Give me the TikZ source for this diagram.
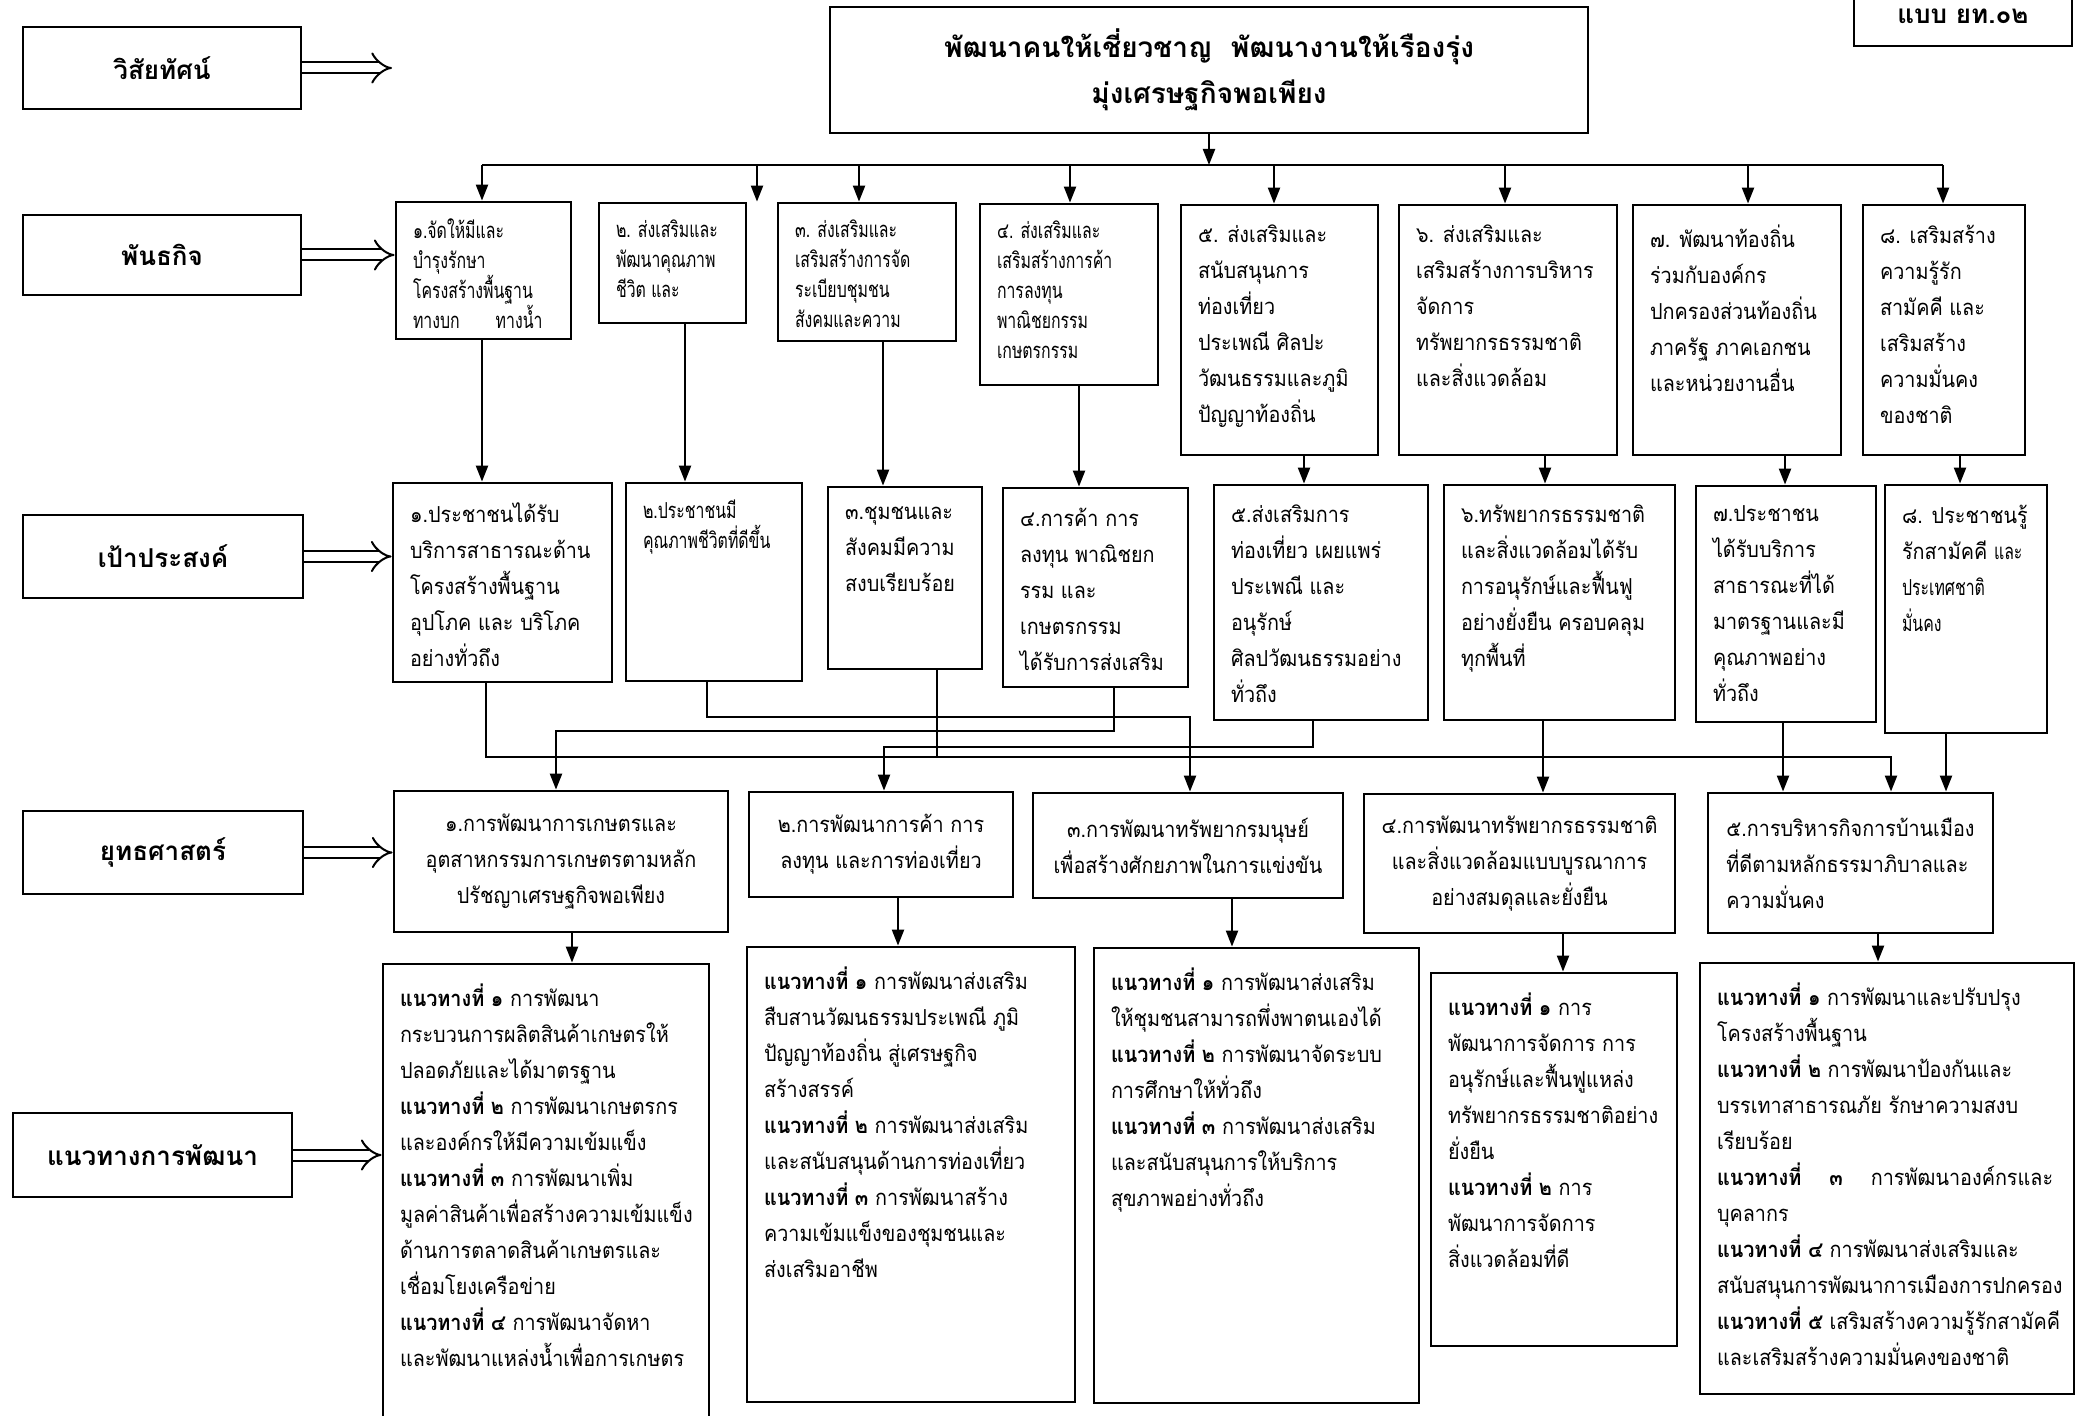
\documentclass[tikz,border=0pt]{standalone}
\usepackage{fontspec}
\setmainfont[Script=Thai,FakeStretch=0.9]{Loma}
\newfontfamily\thaicond[Script=Thai,FakeStretch=0.72]{Loma}
\newfontfamily\headfont[Script=Thai]{Loma}
\usetikzlibrary{arrows.meta,fit}

\newcommand\txtn{\fontsize{11}{18}\selectfont}
\newcommand\txts{\thaicond\fontsize{11}{15}\selectfont}
\newcommand\lblfont{\headfont\bfseries\fontsize{13}{15}\selectfont}
\newcommand\ntb[1]{\textbf{แนวทางที่ #1}}

\begin{document}
\begin{tikzpicture}[x=0.5pt,y=-0.5pt,>={Triangle[length=8pt,width=6pt]},
    box/.style={draw, line width=1.4pt, inner sep=0pt},
    htx/.style={font=\lblfont},
    ctx/.style={align=center, font=\txtn},
    tx/.style={anchor=north west, align=left, inner xsep=9pt, inner ysep=10.5pt, font=\txtn},
    txs/.style={tx, inner ysep=9pt, font=\txts},
    link/.style={line width=1.1pt},
    dbl/.style={double, double distance=4.5pt, line width=1pt, -{Implies}}]
  \useasboundingbox (0,0) rectangle (2082,1416);

  % row headings
  \node[box, fit={(23,27) (301,109)}] (lv) {};
  \node[box, fit={(23,215) (301,295)}] (lm) {};
  \node[box, fit={(23,515) (303,598)}] (lo) {};
  \node[box, fit={(23,811) (303,894)}] (ls) {};
  \node[box, fit={(13,1113) (292,1197)}] (lg) {};
  \node[htx] (lvt) at (lv.center) {วิสัยทัศน์};
  \node[htx] (lmt) at (lm.center) {พันธกิจ};
  \node[htx] (lot) at (lo.center) {เป้าประสงค์};
  \node[htx] (lst) at (ls.center) {ยุทธศาสตร์};
  \node[htx] (lgt) at (lg.center) {แนวทางการพัฒนา};

  % vision
  \node[box, fit={(830,7) (1588,133)}] (vis) {};
  \node[htx, align=center, font=\headfont\bfseries\fontsize{14}{23}\selectfont] (vist) at (vis.center)
    {พัฒนาคนให้เชี่ยวชาญ\ \ พัฒนางานให้เรืองรุ่ง\\มุ่งเศรษฐกิจพอเพียง};
  \node[box, fit={(1854,-8) (2072,46)}] (form) {};
  \node[htx, yshift=1.4pt] (formt) at (form.center) {แบบ ยท.๐๒};
  \coordinate (va) at (392,68);
  \coordinate (bus) at (0,165);

  % missions
  \node[box, fit={(396,202) (571,339)}] (m1) {};
  \node[box, fit={(599,203) (746,323)}] (m2) {};
  \node[box, fit={(778,203) (956,341)}] (m3) {};
  \node[box, fit={(980,204) (1158,385)}] (m4) {};
  \node[box, fit={(1181,205) (1378,455)}] (m5) {};
  \node[box, fit={(1399,205) (1617,455)}] (m6) {};
  \node[box, fit={(1633,205) (1841,455)}] (m7) {};
  \node[box, fit={(1863,205) (2025,455)}] (m8) {};
  \node[txs] (m1t) at (m1.north west) {๑.จัดให้มีและ\\บำรุงรักษา\\โครงสร้างพื้นฐาน\\ทางบก\hspace{18pt}ทางน้ำ};
  \node[txs] (m2t) at (m2.north west) {๒. ส่งเสริมและ\\พัฒนาคุณภาพ\\ชีวิต และ};
  \node[txs] (m3t) at (m3.north west) {๓. ส่งเสริมและ\\เสริมสร้างการจัด\\ระเบียบชุมชน\\สังคมและความ};
  \node[txs] (m4t) at (m4.north west) {๔. ส่งเสริมและ\\เสริมสร้างการค้า\\การลงทุน\\พาณิชยกรรม\\เกษตรกรรม};
  \node[tx] (m5t) at (m5.north west) {๕. ส่งเสริมและ\\สนับสนุนการ\\ท่องเที่ยว\\ประเพณี ศิลปะ\\วัฒนธรรมและภูมิ\\ปัญญาท้องถิ่น};
  \node[tx] (m6t) at (m6.north west) {๖. ส่งเสริมและ\\เสริมสร้างการบริหาร\\จัดการ\\ทรัพยากรธรรมชาติ\\และสิ่งแวดล้อม};
  \node[tx] (m7t) at (m7.north west) {๗. พัฒนาท้องถิ่น\\ร่วมกับองค์กร\\ปกครองส่วนท้องถิ่น\\ภาครัฐ ภาคเอกชน\\และหน่วยงานอื่น};
  \node[tx] (m8t) at (m8.north west) {๘. เสริมสร้าง\\ความรู้รัก\\สามัคคี และ\\เสริมสร้าง\\ความมั่นคง\\ของชาติ};

  % objectives
  \node[box, fit={(393,483) (612,682)}] (o1) {};
  \node[box, fit={(626,483) (802,681)}] (o2) {};
  \node[box, fit={(828,487) (982,669)}] (o3) {};
  \node[box, fit={(1003,488) (1188,687)}] (o4) {};
  \node[box, fit={(1214,485) (1428,720)}] (o5) {};
  \node[box, fit={(1444,485) (1675,720)}] (o6) {};
  \node[box, fit={(1696,486) (1876,722)}] (o7) {};
  \node[box, fit={(1885,485) (2047,733)}] (o8) {};
  \node[tx] (o1t) at (o1.north west) {๑.ประชาชนได้รับ\\บริการสาธารณะด้าน\\โครงสร้างพื้นฐาน\\อุปโภค และ บริโภค\\อย่างทั่วถึง};
  \node[txs] (o2t) at (o2.north west) {๒.ประชาชนมี\\คุณภาพชีวิตที่ดีขึ้น};
  \node[tx] (o3t) at (o3.north west) {๓.ชุมชนและ\\สังคมมีความ\\สงบเรียบร้อย};
  \node[tx] (o4t) at (o4.north west) {๔.การค้า การ\\ลงทุน พาณิชยก\\รรม และ\\เกษตรกรรม\\ได้รับการส่งเสริม};
  \node[tx] (o5t) at (o5.north west) {๕.ส่งเสริมการ\\ท่องเที่ยว เผยแพร่\\ประเพณี และ\\อนุรักษ์\\ศิลปวัฒนธรรมอย่าง\\ทั่วถึง};
  \node[tx] (o6t) at (o6.north west) {๖.ทรัพยากรธรรมชาติ\\และสิ่งแวดล้อมได้รับ\\การอนุรักษ์และฟื้นฟู\\อย่างยั่งยืน ครอบคลุม\\ทุกพื้นที่};
  \node[tx] (o7t) at (o7.north west) {๗.ประชาชน\\ได้รับบริการ\\สาธารณะที่ได้\\มาตรฐานและมี\\คุณภาพอย่าง\\ทั่วถึง};
  \node[tx] (o8t) at (o8.north west) {๘. ประชาชนรู้\\รักสามัคคี {\txts และ}\\{\txts ประเทศชาติ}\\{\txts มั่นคง}};

  % strategies
  \node[box, fit={(394,791) (728,932)}] (s1) {};
  \node[box, fit={(749,792) (1013,897)}] (s2) {};
  \node[box, fit={(1033,793) (1343,898)}] (s3) {};
  \node[box, fit={(1364,794) (1675,933)}] (s4) {};
  \node[box, fit={(1708,793) (1993,933)}] (s5) {};
  \node[ctx] (s1t) at (s1.center) {๑.การพัฒนาการเกษตรและ\\อุตสาหกรรมการเกษตรตามหลัก\\ปรัชญาเศรษฐกิจพอเพียง};
  \node[ctx] (s2t) at (s2.center) {๒.การพัฒนาการค้า การ\\ลงทุน และการท่องเที่ยว};
  \node[ctx] (s3t) at (s3.center) {๓.การพัฒนาทรัพยากรมนุษย์\\เพื่อสร้างศักยภาพในการแข่งขัน};
  \node[ctx] (s4t) at (s4.center) {๔.การพัฒนาทรัพยากรธรรมชาติ\\และสิ่งแวดล้อมแบบบูรณาการ\\อย่างสมดุลและยั่งยืน};
  \node[ctx, align=left] (s5t) at (s5.center) {๕.การบริหารกิจการบ้านเมือง\\ที่ดีตามหลักธรรมาภิบาลและ\\ความมั่นคง};

  % guidelines
  \node[box, fit={(383,964) (709,1430)}] (g1) {};
  \node[box, fit={(747,947) (1075,1402)}] (g2) {};
  \node[box, fit={(1094,948) (1419,1403)}] (g3) {};
  \node[box, fit={(1431,973) (1677,1346)}] (g4) {};
  \node[box, fit={(1700,963) (2074,1394)}] (g5) {};
  \node[tx] (g1t) at (g1.north west) {\ntb{๑} การพัฒนา\\กระบวนการผลิตสินค้าเกษตรให้\\ปลอดภัยและได้มาตรฐาน\\\ntb{๒} การพัฒนาเกษตรกร\\และองค์กรให้มีความเข้มแข็ง\\\ntb{๓} การพัฒนาเพิ่ม\\มูลค่าสินค้าเพื่อสร้างความเข้มแข็ง\\ด้านการตลาดสินค้าเกษตรและ\\เชื่อมโยงเครือข่าย\\\ntb{๔} การพัฒนาจัดหา\\และพัฒนาแหล่งน้ำเพื่อการเกษตร};
  \node[tx] (g2t) at (g2.north west) {\ntb{๑} การพัฒนาส่งเสริม\\สืบสานวัฒนธรรมประเพณี ภูมิ\\ปัญญาท้องถิ่น สู่เศรษฐกิจ\\สร้างสรรค์\\\ntb{๒} การพัฒนาส่งเสริม\\และสนับสนุนด้านการท่องเที่ยว\\\ntb{๓} การพัฒนาสร้าง\\ความเข้มแข็งของชุมชนและ\\ส่งเสริมอาชีพ};
  \node[tx] (g3t) at (g3.north west) {\ntb{๑} การพัฒนาส่งเสริม\\ให้ชุมชนสามารถพึ่งพาตนเองได้\\\ntb{๒} การพัฒนาจัดระบบ\\การศึกษาให้ทั่วถึง\\\ntb{๓} การพัฒนาส่งเสริม\\และสนับสนุนการให้บริการ\\สุขภาพอย่างทั่วถึง};
  \node[tx] (g4t) at (g4.north west) {\ntb{๑} การ\\พัฒนาการจัดการ การ\\อนุรักษ์และฟื้นฟูแหล่ง\\ทรัพยากรธรรมชาติอย่าง\\ยั่งยืน\\\ntb{๒} การ\\พัฒนาการจัดการ\\สิ่งแวดล้อมที่ดี};
  \node[tx] (g5t) at (g5.north west) {\ntb{๑} การพัฒนาและปรับปรุง\\โครงสร้างพื้นฐาน\\\ntb{๒} การพัฒนาป้องกันและ\\บรรเทาสาธารณภัย รักษาความสงบ\\เรียบร้อย\\\textbf{แนวทางที่}\hspace{14pt}\textbf{๓}\hspace{14pt}การพัฒนาองค์กรและ\\บุคลากร\\\ntb{๔} การพัฒนาส่งเสริมและ\\สนับสนุนการพัฒนาการเมืองการปกครอง\\\ntb{๕} เสริมสร้างความรู้รักสามัคคี\\และเสริมสร้างความมั่นคงของชาติ};

  % heading arrows
  \draw[dbl] (lv.east) -- (va);
  \draw[dbl] (lm.east) -- (lm.east -| m1.west);
  \draw[dbl] (lo.east) -- (lo.east -| o1.west);
  \draw[dbl] (ls.east) -- (ls.east -| s1.west);
  \draw[dbl] (lg.east) -- (lg.east -| g1.west);

  % vision to missions
  \draw[link, ->] (vis.south) -- (vis.south |- bus);
  \draw[link] (bus -| 482,0) -- (bus -| 1943,0);
  \foreach \b/\x in {m1/482, m3/859, m4/1070, m5/1274, m6/1505, m7/1748, m8/1943}
    \draw[link, ->] (bus -| \x,0) -- (\b.north -| \x,0);
  \draw[link, ->] (bus -| 757,0) -- (m2.north -| 757,0);

  % missions to objectives
  \foreach \m/\o/\x in {m1/o1/482, m2/o2/685, m3/o3/883, m4/o4/1079, m5/o5/1304, m6/o6/1545, m7/o7/1785, m8/o8/1960}
    \draw[link, ->] (\m.south -| \x,0) -- (\o.north -| \x,0);

  % objectives to strategies
  \draw[link, ->] (o1.south -| 486,0) |- (1891,757) -- (s5.north -| 1891,0);
  \draw[link] (o3.south -| 937,0) -- (937,757);
  \draw[link, ->] (o2.south -| 707,0) |- (1190,717) -- (s3.north -| 1190,0);
  \draw[link, ->] (o4.south -| 1114,0) |- (556,731) -- (s1.north -| 556,0);
  \draw[link, ->] (o5.south -| 1313,0) |- (884,747) -- (s2.north -| 884,0);
  \draw[link, ->] (o6.south -| 1543,0) -- (s4.north -| 1543,0);
  \draw[link, ->] (o7.south -| 1783,0) -- (s5.north -| 1783,0);
  \draw[link, ->] (o8.south -| 1946,0) -- (s5.north -| 1946,0);

  % strategies to guidelines
  \foreach \s/\g/\x in {s1/g1/572, s2/g2/898, s3/g3/1232, s4/g4/1563, s5/g5/1878}
    \draw[link, ->] (\s.south -| \x,0) -- (\g.north -| \x,0);
\end{tikzpicture}
\end{document}
